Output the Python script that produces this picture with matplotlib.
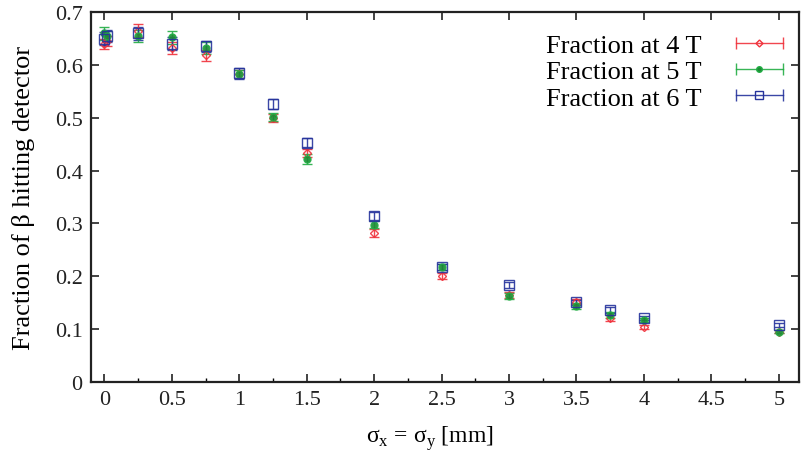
import matplotlib
matplotlib.use('Agg')
import matplotlib.pyplot as plt
from matplotlib.ticker import MultipleLocator
from matplotlib.lines import Line2D
from matplotlib.legend_handler import HandlerLine2D, HandlerTuple

# sigma values [mm]
sigma = [0.0, 0.02, 0.25, 0.5, 0.75, 1.0, 1.25, 1.5, 2.0, 2.5, 3.0, 3.5, 3.75, 4.0, 5.0]

frac_4T = [0.640, 0.645, 0.665, 0.632, 0.618, 0.583, 0.500, 0.433, 0.282, 0.201, 0.165, 0.152, 0.121, 0.104, 0.095]
err_4T = [0.010, 0.010, 0.012, 0.012, 0.010, 0.008, 0.008, 0.008, 0.007, 0.006, 0.006, 0.005, 0.005, 0.004, 0.003]

frac_5T = [0.660, 0.655, 0.655, 0.652, 0.632, 0.583, 0.502, 0.422, 0.298, 0.217, 0.163, 0.144, 0.127, 0.118, 0.095]
err_5T = [0.012, 0.010, 0.012, 0.013, 0.012, 0.008, 0.008, 0.009, 0.007, 0.006, 0.006, 0.005, 0.005, 0.004, 0.003]

frac_6T = [0.650, 0.655, 0.660, 0.640, 0.635, 0.584, 0.526, 0.453, 0.314, 0.218, 0.183, 0.151, 0.136, 0.121, 0.108]
err_6T = [0.012, 0.012, 0.012, 0.012, 0.010, 0.010, 0.009, 0.009, 0.008, 0.006, 0.006, 0.005, 0.005, 0.004, 0.004]

labels = ['Fraction at 4 T', 'Fraction at 5 T', 'Fraction at 6 T']

plt.rcParams['font.family'] = ['Liberation Serif', 'DejaVu Serif']
plt.rcParams['mathtext.fontset'] = 'custom'
plt.rcParams['mathtext.rm'] = 'Liberation Serif'

fig = plt.figure(figsize=(8.03, 4.52), dpi=100)
ax = fig.add_axes([0.1133, 0.1527, 0.8817, 0.8183])

styles = [
    ('#f0323c', 'D', 'none', 4.5),
    ('#22ad44', 'o', '#1c8c34', 5),
    ('#26339c', 's', 'none', 6.5),
]
handles = []
hmap = {}
for (vals, errs), (col, mk, fc, ms) in zip([(frac_4T, err_4T), (frac_5T, err_5T), (frac_6T, err_6T)], styles):
    ax.errorbar(sigma, vals, yerr=errs, fmt=mk, color=col, mfc=fc, mec=col,
                ms=ms, mew=1.0, elinewidth=1.0, capsize=3.5, capthick=1.0, alpha=0.9)
    # gnuplot-style legend sample: horizontal bar with caps and marker
    bar = Line2D([], [], color=col, lw=1.0, alpha=0.9)
    caps = Line2D([], [], color=col, ls='none', marker='|', ms=8, mew=1.0, alpha=0.9)
    mark = Line2D([], [], color=col, ls='none', marker=mk, mfc=fc, mec=col, ms=ms - 1, mew=1.0)
    hmap[caps] = HandlerLine2D(numpoints=2, marker_pad=0)
    handles.append((bar, caps, mark))

hmap[tuple] = HandlerTuple(ndivide=1)

ax.set_xlim(-0.1, 5.15)
ax.set_ylim(0, 0.7)
ax.xaxis.set_minor_locator(MultipleLocator(0.25))
ax.set_xticks([0, 0.5, 1, 1.5, 2, 2.5, 3, 3.5, 4, 4.5, 5])
ax.set_xticklabels(['0', '0.5', '1', '1.5', '2', '2.5', '3', '3.5', '4', '4.5', '5'])
ax.set_yticks([0, 0.1, 0.2, 0.3, 0.4, 0.5, 0.6, 0.7])
ax.set_yticklabels(['0', '0.1', '0.2', '0.3', '0.4', '0.5', '0.6', '0.7'])
ax.tick_params(which='major', direction='in', length=6, width=1.2, top=True, right=True,
               labelsize=16, pad=6, colors='#222222')
ax.tick_params(which='minor', direction='in', length=3, width=1.0, top=False, bottom=True)
for sp in ax.spines.values():
    sp.set_linewidth(1.6)
    sp.set_color('#222222')

ax.set_xlabel('σ$_\\mathrm{x}$ = σ$_\\mathrm{y}$ [mm]', fontsize=17)
ax.xaxis.set_label_coords(0.479, -0.112)
ax.set_ylabel('Fraction of β hitting detector', fontsize=19, labelpad=14)

leg = ax.legend(handles, labels, handler_map=hmap, loc='upper right',
                bbox_to_anchor=(1.0, 0.984), frameon=False,
                markerfirst=False, fontsize=19, handlelength=1.8, handletextpad=1.3,
                labelspacing=0.1, borderaxespad=0.2)

fig.savefig('out.png', dpi=100)
